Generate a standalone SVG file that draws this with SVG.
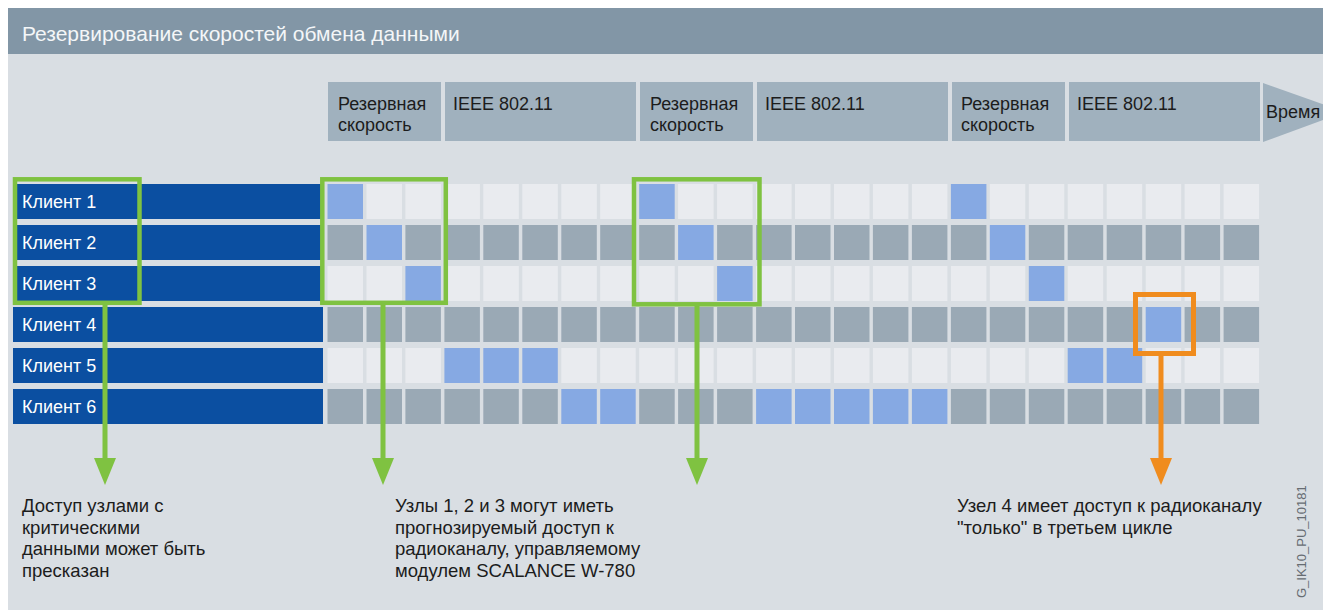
<svg xmlns="http://www.w3.org/2000/svg" width="1323" height="610" viewBox="0 0 1323 610">
<style>
text{font-family:"Liberation Sans",Arial,sans-serif}
.hd{fill:#f4f6f8;font-size:21px}
.seg{fill:#a0b1be}
.st{fill:#1c1c1c;font-size:18px}
.bar{fill:#0b4fa1}
.ct{fill:#ffffff;font-size:18px}
.l{fill:#e9ebef}
.d{fill:#9aa9b5}
.b{fill:#86a9e3}
.gb{fill:none;stroke:#7fc241;stroke-width:4.5}
.ob{fill:none;stroke:#f08c1e;stroke-width:5}
.gl{stroke:#7fc241;stroke-width:5;fill:none}
.ol{stroke:#f08c1e;stroke-width:5;fill:none}
.nt{fill:#1c1c1c;font-size:18.5px}
.code{fill:#666c72;font-size:13px}
</style>
<defs>
<marker id="ag" markerUnits="userSpaceOnUse" markerWidth="27" markerHeight="22" refX="0" refY="0" orient="auto" overflow="visible"><path d="M0,-11 L27,0 L0,11 z" fill="#7fc241"/></marker>
<marker id="ao" markerUnits="userSpaceOnUse" markerWidth="27" markerHeight="22" refX="0" refY="0" orient="auto" overflow="visible"><path d="M0,-11 L27,0 L0,11 z" fill="#f08c1e"/></marker>
</defs>
<rect x="0" y="0" width="1323" height="610" fill="#ffffff"/>
<rect x="8" y="8" width="1315" height="602" fill="#d9dee3"/>
<g id="header">
<rect x="8" y="8" width="1315" height="46" fill="#8296a6"/>
<text class="hd" x="22" y="41">Резервирование скоростей обмена данными</text>
</g>
<g id="timeline">
<g id="seg-r1"><rect class="seg" x="328" y="82" width="113" height="59"/><text class="st" x="338" y="110">Резервная</text><text class="st" x="338" y="131">скорость</text></g>
<g id="seg-i1"><rect class="seg" x="445" y="82" width="191" height="59"/><text class="st" x="453" y="110">IEEE 802.11</text></g>
<g id="seg-r2"><rect class="seg" x="640" y="82" width="113" height="59"/><text class="st" x="650" y="110">Резервная</text><text class="st" x="650" y="131">скорость</text></g>
<g id="seg-i2"><rect class="seg" x="757" y="82" width="191" height="59"/><text class="st" x="765" y="110">IEEE 802.11</text></g>
<g id="seg-r3"><rect class="seg" x="952" y="82" width="113" height="59"/><text class="st" x="961" y="110">Резервная</text><text class="st" x="961" y="131">скорость</text></g>
<g id="seg-i3"><rect class="seg" x="1069" y="82" width="191" height="59"/><text class="st" x="1077" y="110">IEEE 802.11</text></g>
<g id="seg-time"><polygon class="seg" points="1263,83 1345,112 1263,142"/><text class="st" x="1266" y="118">Время</text></g>
</g>
<g id="client1">
<rect class="bar" x="13" y="184" width="310" height="35"/><text class="ct" x="22" y="208">Клиент 1</text>
<g transform="translate(0,184)">
<rect class="b" x="327.5" y="0" width="35.5" height="35"/><rect class="l" x="366.5" y="0" width="35.5" height="35"/><rect class="l" x="405.4" y="0" width="35.5" height="35"/><rect class="l" x="444.4" y="0" width="35.5" height="35"/><rect class="l" x="483.3" y="0" width="35.5" height="35"/><rect class="l" x="522.3" y="0" width="35.5" height="35"/><rect class="l" x="561.3" y="0" width="35.5" height="35"/><rect class="l" x="600.2" y="0" width="35.5" height="35"/><rect class="b" x="639.2" y="0" width="35.5" height="35"/><rect class="l" x="678.1" y="0" width="35.5" height="35"/><rect class="l" x="717.1" y="0" width="35.5" height="35"/><rect class="l" x="756.1" y="0" width="35.5" height="35"/><rect class="l" x="795" y="0" width="35.5" height="35"/><rect class="l" x="834" y="0" width="35.5" height="35"/><rect class="l" x="872.9" y="0" width="35.5" height="35"/><rect class="l" x="911.9" y="0" width="35.5" height="35"/><rect class="b" x="950.9" y="0" width="35.5" height="35"/><rect class="l" x="989.8" y="0" width="35.5" height="35"/><rect class="l" x="1028.8" y="0" width="35.5" height="35"/><rect class="l" x="1067.7" y="0" width="35.5" height="35"/><rect class="l" x="1106.7" y="0" width="35.5" height="35"/><rect class="l" x="1145.7" y="0" width="35.5" height="35"/><rect class="l" x="1184.6" y="0" width="35.5" height="35"/><rect class="l" x="1223.6" y="0" width="35.5" height="35"/>
</g>
</g>
<g id="client2">
<rect class="bar" x="13" y="225" width="310" height="35"/><text class="ct" x="22" y="249">Клиент 2</text>
<g transform="translate(0,225)">
<rect class="d" x="327.5" y="0" width="35.5" height="35"/><rect class="b" x="366.5" y="0" width="35.5" height="35"/><rect class="d" x="405.4" y="0" width="35.5" height="35"/><rect class="d" x="444.4" y="0" width="35.5" height="35"/><rect class="d" x="483.3" y="0" width="35.5" height="35"/><rect class="d" x="522.3" y="0" width="35.5" height="35"/><rect class="d" x="561.3" y="0" width="35.5" height="35"/><rect class="d" x="600.2" y="0" width="35.5" height="35"/><rect class="d" x="639.2" y="0" width="35.5" height="35"/><rect class="b" x="678.1" y="0" width="35.5" height="35"/><rect class="d" x="717.1" y="0" width="35.5" height="35"/><rect class="d" x="756.1" y="0" width="35.5" height="35"/><rect class="d" x="795" y="0" width="35.5" height="35"/><rect class="d" x="834" y="0" width="35.5" height="35"/><rect class="d" x="872.9" y="0" width="35.5" height="35"/><rect class="d" x="911.9" y="0" width="35.5" height="35"/><rect class="d" x="950.9" y="0" width="35.5" height="35"/><rect class="b" x="989.8" y="0" width="35.5" height="35"/><rect class="d" x="1028.8" y="0" width="35.5" height="35"/><rect class="d" x="1067.7" y="0" width="35.5" height="35"/><rect class="d" x="1106.7" y="0" width="35.5" height="35"/><rect class="d" x="1145.7" y="0" width="35.5" height="35"/><rect class="d" x="1184.6" y="0" width="35.5" height="35"/><rect class="d" x="1223.6" y="0" width="35.5" height="35"/>
</g>
</g>
<g id="client3">
<rect class="bar" x="13" y="266" width="310" height="35"/><text class="ct" x="22" y="290">Клиент 3</text>
<g transform="translate(0,266)">
<rect class="l" x="327.5" y="0" width="35.5" height="35"/><rect class="l" x="366.5" y="0" width="35.5" height="35"/><rect class="b" x="405.4" y="0" width="35.5" height="35"/><rect class="l" x="444.4" y="0" width="35.5" height="35"/><rect class="l" x="483.3" y="0" width="35.5" height="35"/><rect class="l" x="522.3" y="0" width="35.5" height="35"/><rect class="l" x="561.3" y="0" width="35.5" height="35"/><rect class="l" x="600.2" y="0" width="35.5" height="35"/><rect class="l" x="639.2" y="0" width="35.5" height="35"/><rect class="l" x="678.1" y="0" width="35.5" height="35"/><rect class="b" x="717.1" y="0" width="35.5" height="35"/><rect class="l" x="756.1" y="0" width="35.5" height="35"/><rect class="l" x="795" y="0" width="35.5" height="35"/><rect class="l" x="834" y="0" width="35.5" height="35"/><rect class="l" x="872.9" y="0" width="35.5" height="35"/><rect class="l" x="911.9" y="0" width="35.5" height="35"/><rect class="l" x="950.9" y="0" width="35.5" height="35"/><rect class="l" x="989.8" y="0" width="35.5" height="35"/><rect class="b" x="1028.8" y="0" width="35.5" height="35"/><rect class="l" x="1067.7" y="0" width="35.5" height="35"/><rect class="l" x="1106.7" y="0" width="35.5" height="35"/><rect class="l" x="1145.7" y="0" width="35.5" height="35"/><rect class="l" x="1184.6" y="0" width="35.5" height="35"/><rect class="l" x="1223.6" y="0" width="35.5" height="35"/>
</g>
</g>
<g id="client4">
<rect class="bar" x="13" y="307" width="310" height="35"/><text class="ct" x="22" y="331">Клиент 4</text>
<g transform="translate(0,307)">
<rect class="d" x="327.5" y="0" width="35.5" height="35"/><rect class="d" x="366.5" y="0" width="35.5" height="35"/><rect class="d" x="405.4" y="0" width="35.5" height="35"/><rect class="d" x="444.4" y="0" width="35.5" height="35"/><rect class="d" x="483.3" y="0" width="35.5" height="35"/><rect class="d" x="522.3" y="0" width="35.5" height="35"/><rect class="d" x="561.3" y="0" width="35.5" height="35"/><rect class="d" x="600.2" y="0" width="35.5" height="35"/><rect class="d" x="639.2" y="0" width="35.5" height="35"/><rect class="d" x="678.1" y="0" width="35.5" height="35"/><rect class="d" x="717.1" y="0" width="35.5" height="35"/><rect class="d" x="756.1" y="0" width="35.5" height="35"/><rect class="d" x="795" y="0" width="35.5" height="35"/><rect class="d" x="834" y="0" width="35.5" height="35"/><rect class="d" x="872.9" y="0" width="35.5" height="35"/><rect class="d" x="911.9" y="0" width="35.5" height="35"/><rect class="d" x="950.9" y="0" width="35.5" height="35"/><rect class="d" x="989.8" y="0" width="35.5" height="35"/><rect class="d" x="1028.8" y="0" width="35.5" height="35"/><rect class="d" x="1067.7" y="0" width="35.5" height="35"/><rect class="d" x="1106.7" y="0" width="35.5" height="35"/><rect class="b" x="1145.7" y="0" width="35.5" height="35"/><rect class="d" x="1184.6" y="0" width="35.5" height="35"/><rect class="d" x="1223.6" y="0" width="35.5" height="35"/>
</g>
</g>
<g id="client5">
<rect class="bar" x="13" y="348" width="310" height="35"/><text class="ct" x="22" y="372">Клиент 5</text>
<g transform="translate(0,348)">
<rect class="l" x="327.5" y="0" width="35.5" height="35"/><rect class="l" x="366.5" y="0" width="35.5" height="35"/><rect class="l" x="405.4" y="0" width="35.5" height="35"/><rect class="b" x="444.4" y="0" width="35.5" height="35"/><rect class="b" x="483.3" y="0" width="35.5" height="35"/><rect class="b" x="522.3" y="0" width="35.5" height="35"/><rect class="l" x="561.3" y="0" width="35.5" height="35"/><rect class="l" x="600.2" y="0" width="35.5" height="35"/><rect class="l" x="639.2" y="0" width="35.5" height="35"/><rect class="l" x="678.1" y="0" width="35.5" height="35"/><rect class="l" x="717.1" y="0" width="35.5" height="35"/><rect class="l" x="756.1" y="0" width="35.5" height="35"/><rect class="l" x="795" y="0" width="35.5" height="35"/><rect class="l" x="834" y="0" width="35.5" height="35"/><rect class="l" x="872.9" y="0" width="35.5" height="35"/><rect class="l" x="911.9" y="0" width="35.5" height="35"/><rect class="l" x="950.9" y="0" width="35.5" height="35"/><rect class="l" x="989.8" y="0" width="35.5" height="35"/><rect class="l" x="1028.8" y="0" width="35.5" height="35"/><rect class="b" x="1067.7" y="0" width="35.5" height="35"/><rect class="b" x="1106.7" y="0" width="35.5" height="35"/><rect class="l" x="1145.7" y="0" width="35.5" height="35"/><rect class="l" x="1184.6" y="0" width="35.5" height="35"/><rect class="l" x="1223.6" y="0" width="35.5" height="35"/>
</g>
</g>
<g id="client6">
<rect class="bar" x="13" y="389" width="310" height="35"/><text class="ct" x="22" y="413">Клиент 6</text>
<g transform="translate(0,389)">
<rect class="d" x="327.5" y="0" width="35.5" height="35"/><rect class="d" x="366.5" y="0" width="35.5" height="35"/><rect class="d" x="405.4" y="0" width="35.5" height="35"/><rect class="d" x="444.4" y="0" width="35.5" height="35"/><rect class="d" x="483.3" y="0" width="35.5" height="35"/><rect class="d" x="522.3" y="0" width="35.5" height="35"/><rect class="b" x="561.3" y="0" width="35.5" height="35"/><rect class="b" x="600.2" y="0" width="35.5" height="35"/><rect class="d" x="639.2" y="0" width="35.5" height="35"/><rect class="d" x="678.1" y="0" width="35.5" height="35"/><rect class="d" x="717.1" y="0" width="35.5" height="35"/><rect class="b" x="756.1" y="0" width="35.5" height="35"/><rect class="b" x="795" y="0" width="35.5" height="35"/><rect class="b" x="834" y="0" width="35.5" height="35"/><rect class="b" x="872.9" y="0" width="35.5" height="35"/><rect class="b" x="911.9" y="0" width="35.5" height="35"/><rect class="d" x="950.9" y="0" width="35.5" height="35"/><rect class="d" x="989.8" y="0" width="35.5" height="35"/><rect class="d" x="1028.8" y="0" width="35.5" height="35"/><rect class="d" x="1067.7" y="0" width="35.5" height="35"/><rect class="d" x="1106.7" y="0" width="35.5" height="35"/><rect class="d" x="1145.7" y="0" width="35.5" height="35"/><rect class="d" x="1184.6" y="0" width="35.5" height="35"/><rect class="d" x="1223.6" y="0" width="35.5" height="35"/>
</g>
</g>
<g id="connectors">
<line class="gl" x1="105" y1="305" x2="105" y2="458" marker-end="url(#ag)"/>
<line class="gl" x1="383" y1="305" x2="383" y2="458" marker-end="url(#ag)"/>
<line class="gl" x1="697" y1="306" x2="697" y2="458" marker-end="url(#ag)"/>
<line class="ol" x1="1161" y1="356" x2="1161" y2="458" marker-end="url(#ao)"/>
</g>
<g id="box-clients"><rect class="gb" x="15" y="179.3" width="124.5" height="123.5"/></g>
<g id="box-cycle1"><rect class="gb" x="322.3" y="179.3" width="123.5" height="123.5"/></g>
<g id="box-cycle2"><rect class="gb" x="634" y="179.3" width="125.5" height="125"/></g>
<g id="box-node4"><rect class="ob" x="1135.5" y="294.5" width="58" height="59"/></g>
<g id="note-left">
<text class="nt" x="22" y="512">Доступ узлами с</text>
<text class="nt" x="22" y="533.7">критическими</text>
<text class="nt" x="22" y="555.3">данными может быть</text>
<text class="nt" x="22" y="577">пресказан</text>
</g>
<g id="note-middle">
<text class="nt" x="395" y="512">Узлы 1, 2 и 3 могут иметь</text>
<text class="nt" x="395" y="533.7">прогнозируемый доступ к</text>
<text class="nt" x="395" y="555.3">радиоканалу, управляемому</text>
<text class="nt" x="395" y="577">модулем SCALANCE W-780</text>
</g>
<g id="note-right">
<text class="nt" x="957" y="512">Узел 4 имеет доступ к радиоканалу</text>
<text class="nt" x="957" y="533.7">"только" в третьем цикле</text>
</g>
<text class="code" transform="translate(1306,598) rotate(-90)">G_IK10_PU_10181</text>
</svg>
